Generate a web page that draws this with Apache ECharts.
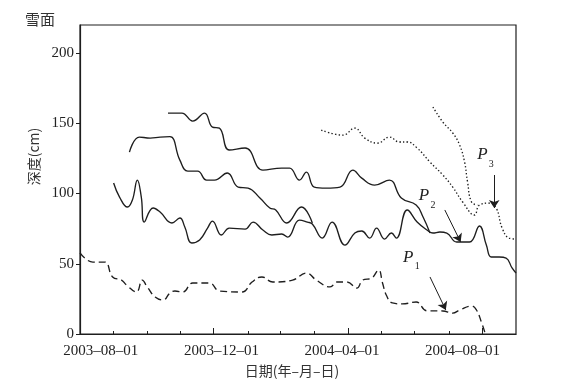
<!DOCTYPE html>
<html>
<head>
<meta charset="utf-8">
<script src="https://cdn.jsdelivr.net/npm/echarts@6/dist/echarts.min.js"></script>
<style>
html,body{margin:0;padding:0;background:#fff;}
#chart{width:561px;height:386px;}
</style>
</head>
<body>
<div id="chart"></div>
<script>
// x values: days since 2003-08-01
var xLabelDays = [0, 122, 244, 366];
var xLabelTexts = ['2003–08–01', '2003–12–01', '2004–04–01', '2004–08–01'];
var xMinorTickDays = [13, 47, 80, 114, 149, 182, 216, 250, 284, 317, 352, 386];
var xMajorTickDays = [114, 250, 386];
var yTicks = [0, 50, 100, 150, 200];

// P1 (dashed)
var seriesP1 = [[-21,57.7],[-8,51.2],[4,51.2],[12,40.6],[21,38.4],[26,34.9],[36,29.9],[42,38.4],[47,33.5],[55,26.3],[63,24.2],[70,29.2],[75,30.6],[83,29.9],[93,36.3],[110,36.3],[120,30.6],[143,29.9],[153,37.0],[163,40.6],[174,37.0],[194,38.4],[208,43.4],[218,38.4],[232,33.5],[239,37.0],[249,37.0],[259,32.7],[265,38.4],[274,39.8],[281,45.6],[285,36.3],[289,27.4],[295,22.1],[305,21.4],[319,22.8],[330,16.5],[346,16.4],[356,14.9],[363,17.1],[375,19.9],[380,17.1],[385,8.5],[389,0]];
// upper solid curve
var seriesA = [[68,157.3],[82,157.3],[93,151.6],[105,157.3],[113,147.3],[120,146.6],[130,131.0],[146,132.4],[164,116.7],[183,118.1],[191,118.1],[201,109.6],[208,115.3],[216,104.6],[228,103.9],[242,104.6],[255,116.7],[264,111.0],[277,106.0],[292,109.6],[304,96.8],[319,91.8],[326,83.3],[333,71.9]];
// middle solid curve
var seriesB = [[29,129.5],[39,140.2],[50,139.5],[60,140.2],[70,140.5],[80,123.8],[88,116.0],[98,116.0],[107,109.6],[115,109.6],[128,114.6],[139,104.6],[149,103.9],[161,96.8],[171,89.7],[177,88.3],[188,79.0],[203,90.4],[214,79.0]];
// lower solid curve (P2)
var seriesC = [[13,107.5],[19,97.5],[27,90.4],[32,95.4],[37,109.6],[41,97.5],[44,79.7],[53,89.7],[60,86.8],[72,79.0],[80,82.6],[85,76.2],[92,64.8],[100,66.9],[108,75.4],[113,80.4],[122,70.5],[130,75.4],[146,74.7],[154,79.7],[164,74.0],[173,70.5],[183,71.2],[189,69.0],[201,81.1],[209,79.7],[214,78.3],[224,68.3],[234,79.7],[247,63.3],[257,71.9],[264,73.3],[272,68.3],[279,75.4],[287,67.6],[294,71.9],[299,68.3],[310,88.3],[320,79.7],[330,74.0],[336,71.9],[343,72.6],[350,71.9],[360,65.5],[373,65.5],[383,76.9],[390,63.3],[395,54.8],[403,54.8],[410,54.1],[416,47.0],[420,43.4]];
// P3 (dotted), two pieces
var seriesP3a = [[223,145.2],[245,141.6],[257,146.6],[267,139.5],[280,135.9],[292,140.2],[302,136.7],[310,136.7],[320,132.4],[333,122.4],[346,113.2],[356,104.6],[366,94.0],[378,84.7],[383,91.8],[393,93.2],[400,89.7],[406,75.4],[413,68.3],[420,67.6]];
var seriesP3b = [[336,161.6],[346,150.9],[356,143.1],[363,134.5],[368,122.4],[371,108.2],[375,94.0],[381,91.8]];

// annotations (data coordinates)
var arrows = [
  [[398,113.2],[398,89.7]],
  [[348,88.3],[364,65.5]],
  [[333,40.6],[349,17.1]]
];
var pLabels = [[386,127.5],[327,98.5],[311,54.5]];
var pSubs = [['3',[395,120.5]],['2',[336,91.5]],['1',[320,48]]];

var ink = '#1e1e1e';
var serif = '"Liberation Serif","DejaVu Serif",serif';
var cjk = '"Noto Sans CJK SC",sans-serif';

var chart = echarts.init(document.getElementById('chart'), null, {renderer:'canvas'});

function lineSeries(data, type, extra) {
  var s = {
    type: 'line', data: data, smooth: 0.45, symbol: 'none', silent: true,
    lineStyle: {color: ink, width: 1.35, type: type},
    z: 3
  };
  if (extra) for (var k in extra) s[k] = extra[k];
  return s;
}

var option = {
  animation: false,
  backgroundColor: '#fff',
  title: {
    text: '雪面', left: 20, top: 7,
    textStyle: {fontFamily: cjk, fontSize: 15, fontWeight: 'normal', color: '#333'}
  },
  grid: {left: 80, right: 45, top: 25, bottom: 52, show: true, borderColor: ink, borderWidth: 1.2, backgroundColor: 'transparent'},
  xAxis: [{
    type: 'value', min: -21, max: 420, position: 'bottom',
    name: '日期(年–月–日)', nameLocation: 'middle', nameGap: 30,
    nameTextStyle: {fontFamily: cjk, fontSize: 14, color: '#333', padding: [0, 12, 0, 0]},
    axisLine: {show: true, onZero: false, lineStyle: {color: ink, width: 1.2}},
    axisTick: {show: true, inside: true, length: 3, customValues: xMinorTickDays, lineStyle: {color: ink, width: 1}},
    axisLabel: {
      show: true, customValues: xLabelDays, margin: 10,
      fontFamily: serif, fontSize: 15, color: '#222',
      formatter: function (v) { var i = xLabelDays.indexOf(v); return i >= 0 ? xLabelTexts[i] : ''; }
    },
    splitLine: {show: false}
  }, {
    type: 'value', min: -21, max: 420, position: 'bottom',
    axisLine: {show: false, onZero: false},
    axisTick: {show: true, inside: true, length: 6, customValues: xMajorTickDays, lineStyle: {color: ink, width: 1}},
    axisLabel: {show: false},
    splitLine: {show: false}
  }],
  yAxis: {
    type: 'value', min: 0, max: 220, interval: 50,
    name: '深度(cm)', nameLocation: 'middle', nameGap: 37, nameRotate: 90,
    nameTextStyle: {fontFamily: cjk, fontSize: 14, color: '#333', padding: [0, 0, 0, 46]},
    axisLine: {show: true, onZero: false, lineStyle: {color: ink, width: 1.2}},
    axisTick: {show: true, inside: false, length: 4, customValues: yTicks, lineStyle: {color: ink, width: 1}},
    axisLabel: {show: true, customValues: yTicks, margin: 6, fontFamily: serif, fontSize: 15, color: '#222'},
    splitLine: {show: false}
  },
  series: [
    lineSeries(seriesP1, [7, 4]),
    lineSeries(seriesA, 'solid'),
    lineSeries(seriesB, 'solid'),
    lineSeries(seriesC, 'solid', {
      markLine: {
        silent: true, symbol: ['none', 'arrow'], symbolSize: 8, animation: false,
        label: {show: false},
        lineStyle: {color: ink, width: 1, type: 'solid'},
        emphasis: {disabled: true},
        data: arrows.map(function (a) { return [{coord: a[0]}, {coord: a[1]}]; })
      },
      markPoint: {
        silent: true, animation: false, symbol: 'rect', symbolSize: 1,
        itemStyle: {color: 'rgba(0,0,0,0)'},
        data: pLabels.map(function (c) {
          return {coord: c, name: 'P', label: {show: true, position: 'inside', formatter: 'P', fontFamily: serif, fontStyle: 'italic', fontSize: 17, color: '#222'}};
        }).concat(pSubs.map(function (s) {
          return {coord: s[1], name: s[0], label: {show: true, position: 'inside', formatter: s[0], fontFamily: serif, fontSize: 10, color: '#222'}};
        }))
      }
    }),
    lineSeries(seriesP3a, [1.4, 2.2]),
    lineSeries(seriesP3b, [1.4, 2.2])
  ]
};
chart.setOption(option);
</script>
</body>
</html>
